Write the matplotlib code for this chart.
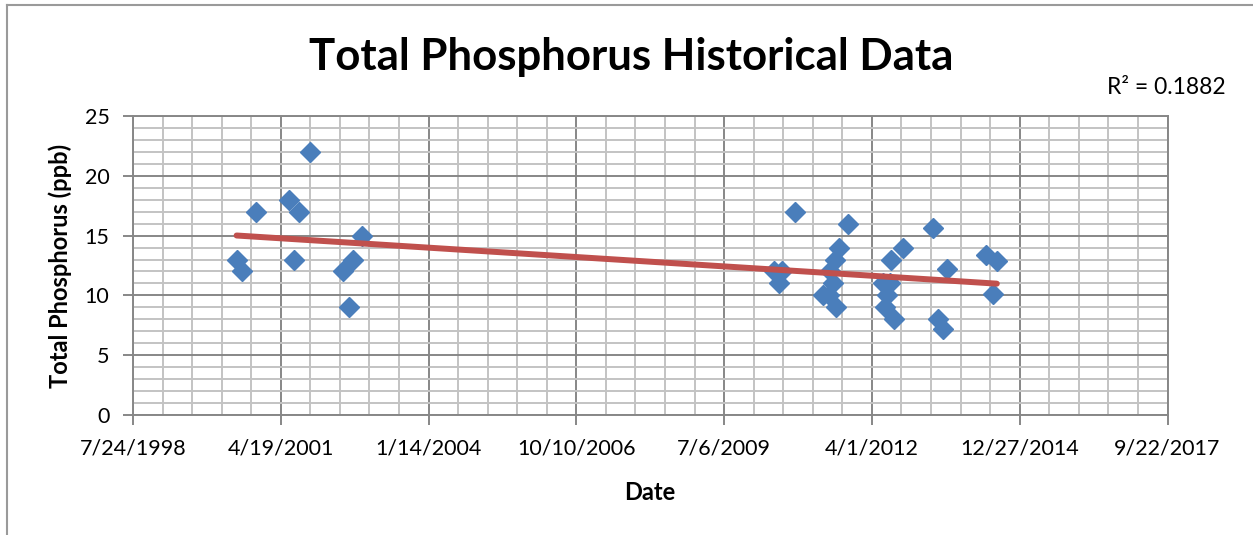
import matplotlib
matplotlib.use("Agg")
import matplotlib.pyplot as plt
import matplotlib.dates as mdates
from matplotlib.lines import Line2D
from matplotlib.ticker import MultipleLocator, FixedLocator
import numpy as np
import pandas as pd

# ---- data ----
sample_dates = [
    "2000-06-24", "2000-08-02", "2000-10-31", "2001-06-13", "2001-07-17",
    "2001-08-19", "2001-11-02", "2002-06-13", "2002-07-23", "2002-08-19",
    "2002-10-22",
    "2010-06-05", "2010-08-01", "2010-07-09", "2010-10-30", "2011-05-07",
    "2011-06-17", "2011-06-23", "2011-07-12", "2011-07-27", "2011-07-30",
    "2011-08-23", "2011-10-25",
    "2012-06-16", "2012-06-30", "2012-07-11", "2012-08-02", "2012-08-07",
    "2012-08-25", "2012-10-31", "2013-05-21", "2013-06-25", "2013-07-29",
    "2013-08-25", "2014-05-12", "2014-06-27", "2014-07-25",
]
tp_values = [
    13, 12, 17, 18, 13,
    17, 22, 12, 9, 13,
    15,
    12, 12, 11, 17, 10,
    10, 12, 11, 13, 9,
    14, 16,
    11, 9, 10, 11, 13,
    8, 14, 15.6, 8, 7.2,
    12.2, 13.4, 10.1, 12.9,
]
tick_dates = ["1998-07-24", "2001-04-19", "2004-01-14", "2006-10-10",
              "2009-07-06", "2012-04-01", "2014-12-27", "2017-09-22"]
tick_labels = ["7/24/1998", "4/19/2001", "1/14/2004", "10/10/2006",
               "7/6/2009", "4/1/2012", "12/27/2014", "9/22/2017"]
y_ticks = [0, 5, 10, 15, 20, 25]
title = "Total Phosphorus Historical Data"
r2_text = "R² = 0.1882"

# ---- figure ----
plt.rcParams['font.family'] = ['Lato', 'DejaVu Sans']
W, H = 1253, 535
fig = plt.figure(figsize=(W / 100, H / 100), dpi=100)
fig.patch.set_facecolor("white")

left, right, top, bottom = 133, 1167.5, 116, 415
ax = fig.add_axes([left / W, 1 - bottom / H, (right - left) / W, (bottom - top) / H])

xd = mdates.date2num(pd.to_datetime(sample_dates))
yv = np.array(tp_values, dtype=float)
tnum = mdates.date2num(pd.to_datetime(tick_dates))

major_c = "#878787"
minor_c = "#c3c3c3"

ax.set_xlim(tnum[0], tnum[-1])
ax.set_ylim(0, 25)
ax.xaxis.set_major_locator(FixedLocator(tnum))
ax.xaxis.set_minor_locator(FixedLocator(np.arange(tnum[0], tnum[-1] + 1, 200)))
ax.set_xticklabels(tick_labels)
ax.set_yticks(y_ticks)
ax.yaxis.set_minor_locator(MultipleLocator(1))

ax.grid(which="minor", color=minor_c, lw=1.4, zorder=0)
ax.grid(which="major", color=major_c, lw=1.4, zorder=0)
ax.set_axisbelow(True)
for s in ax.spines.values():
    s.set_color(major_c)
    s.set_linewidth(1.4)

ax.tick_params(which="major", length=7, width=1.4, color=major_c,
               labelsize=15.5, pad=10, labelcolor="black")
ax.tick_params(which="minor", length=0)

# scatter points
ax.plot(xd, yv, linestyle="none", marker="D", markersize=10.5,
        color="#4a7ebb", markeredgecolor="#4a7ebb", zorder=3)

# linear trend line
coef = np.polyfit(xd, yv, 1)
xt = np.array([xd.min(), xd.max()])
ax.plot(xt, np.polyval(coef, xt), color="#c0504d", lw=4.3,
        solid_capstyle="round", zorder=4)

ax.set_xlabel("Date", fontsize=17, fontweight="bold", labelpad=16)
ax.set_ylabel("Total Phosphorus (ppb)", fontsize=17, fontweight="bold", labelpad=9)

fig.text(631 / W, 1 - 57 / H, title, ha="center", va="center",
         fontsize=31.5, fontweight="bold")
fig.text(1166 / W, 1 - 87 / H, r2_text, ha="center", va="center", fontsize=16.5)

# outer chart border (left and top visible)
fig.add_artist(Line2D([7 / W, 7 / W], [0, 1 - 5 / H], transform=fig.transFigure,
                      color="#9a9a9a", lw=1.5))
fig.add_artist(Line2D([7 / W, 1], [1 - 5 / H, 1 - 5 / H], transform=fig.transFigure,
                      color="#9a9a9a", lw=1.5))

fig.savefig("out.png", dpi=100, facecolor="white")
